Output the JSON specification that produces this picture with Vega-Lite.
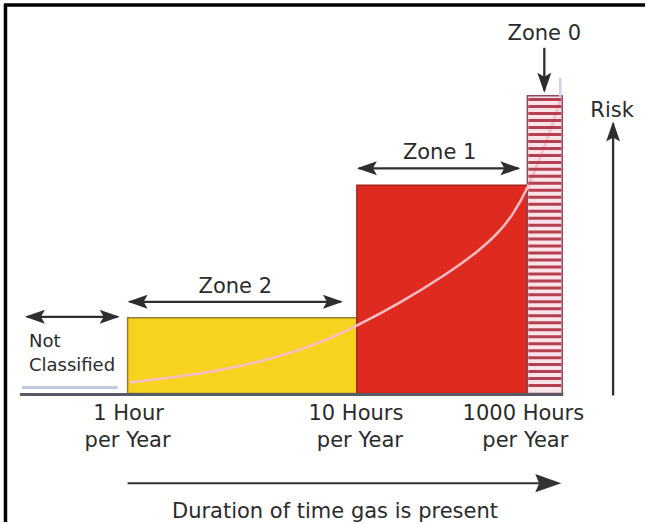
{
  "$schema": "https://vega.github.io/schema/vega-lite/v6.json",
  "width": 647,
  "height": 524,
  "autosize": {"type": "fit", "contains": "padding"},
  "padding": 0,
  "background": "white",
  "config": {"view": {"stroke": null}},
  "datasets": {
    "bars": [
      {"zone": "Zone 2", "x": 128, "x2": 358, "y": 0, "y2": 76},
      {"zone": "Zone 1", "x": 358, "x2": 529, "y": 0, "y2": 209},
      {"zone": "Zone 0", "x": 529, "x2": 564, "y": 0, "y2": 299}
    ],
    "curve": [
      {"x": 130, "y": 11}, {"x": 180, "y": 17}, {"x": 220, "y": 23}, {"x": 270, "y": 34},
      {"x": 320, "y": 50}, {"x": 358, "y": 68}, {"x": 400, "y": 90}, {"x": 450, "y": 121},
      {"x": 480, "y": 143}, {"x": 500, "y": 161}, {"x": 515, "y": 180}, {"x": 530, "y": 207},
      {"x": 545, "y": 245}, {"x": 556, "y": 275}, {"x": 562, "y": 295}
    ],
    "stripes": [
      {"x": 530, "x2": 563, "y": 295}, {"x": 530, "x2": 563, "y": 288}, {"x": 530, "x2": 563, "y": 281},
      {"x": 530, "x2": 563, "y": 274}, {"x": 530, "x2": 563, "y": 267}, {"x": 530, "x2": 563, "y": 260},
      {"x": 530, "x2": 563, "y": 253}, {"x": 530, "x2": 563, "y": 246}, {"x": 530, "x2": 563, "y": 239},
      {"x": 530, "x2": 563, "y": 232}, {"x": 530, "x2": 563, "y": 225}, {"x": 530, "x2": 563, "y": 218},
      {"x": 530, "x2": 563, "y": 211}, {"x": 530, "x2": 563, "y": 204}, {"x": 530, "x2": 563, "y": 197},
      {"x": 530, "x2": 563, "y": 190}, {"x": 530, "x2": 563, "y": 183}, {"x": 530, "x2": 563, "y": 176},
      {"x": 530, "x2": 563, "y": 169}, {"x": 530, "x2": 563, "y": 162}, {"x": 530, "x2": 563, "y": 155},
      {"x": 530, "x2": 563, "y": 148}, {"x": 530, "x2": 563, "y": 141}, {"x": 530, "x2": 563, "y": 134},
      {"x": 530, "x2": 563, "y": 127}, {"x": 530, "x2": 563, "y": 120}, {"x": 530, "x2": 563, "y": 113},
      {"x": 530, "x2": 563, "y": 106}, {"x": 530, "x2": 563, "y": 99}, {"x": 530, "x2": 563, "y": 92},
      {"x": 530, "x2": 563, "y": 85}, {"x": 530, "x2": 563, "y": 78}, {"x": 530, "x2": 563, "y": 71},
      {"x": 530, "x2": 563, "y": 64}, {"x": 530, "x2": 563, "y": 57}, {"x": 530, "x2": 563, "y": 50},
      {"x": 530, "x2": 563, "y": 43}, {"x": 530, "x2": 563, "y": 36}, {"x": 530, "x2": 563, "y": 29},
      {"x": 530, "x2": 563, "y": 22}, {"x": 530, "x2": 563, "y": 15}, {"x": 530, "x2": 563, "y": 8}
    ],
    "segments": [
      {"kind": "frame", "x": 4, "x2": 647, "y": 390, "y2": 390},
      {"kind": "frame", "x": 5.5, "x2": 5.5, "y": 391, "y2": -129},
      {"kind": "base", "x": 20, "x2": 565, "y": -1, "y2": -1},
      {"kind": "flat", "x": 22, "x2": 118, "y": 6, "y2": 6},
      {"kind": "lav", "x": 562, "x2": 562, "y": 317, "y2": 298},
      {"kind": "arrow", "x": 27, "x2": 118, "y": 77, "y2": 77},
      {"kind": "arrow", "x": 130, "x2": 342, "y": 92, "y2": 92},
      {"kind": "arrow", "x": 360, "x2": 520, "y": 226, "y2": 226},
      {"kind": "arrow", "x": 546, "x2": 546, "y": 347, "y2": 304},
      {"kind": "arrow", "x": 615, "x2": 615, "y": 271, "y2": -2},
      {"kind": "duration", "x": 128, "x2": 555, "y": -90, "y2": -90}
    ],
    "heads": [
      {"arrow": "nc", "dir": "left", "x": 25, "y": 77},
      {"arrow": "nc", "dir": "right", "x": 120, "y": 77},
      {"arrow": "z2", "dir": "left", "x": 128, "y": 92},
      {"arrow": "z2", "dir": "right", "x": 344, "y": 92},
      {"arrow": "z1", "dir": "left", "x": 358, "y": 226},
      {"arrow": "z1", "dir": "right", "x": 522, "y": 226},
      {"arrow": "z0", "dir": "down", "x": 546, "y": 302},
      {"arrow": "risk", "dir": "up", "x": 615, "y": 273},
      {"arrow": "duration", "dir": "right", "x": 563, "y": -90}
    ],
    "labels": [
      {"role": "zone", "text": "Zone 0", "x": 546, "y": 355},
      {"role": "zone", "text": "Zone 1", "x": 441, "y": 235},
      {"role": "zone", "text": "Zone 2", "x": 236, "y": 101},
      {"role": "tick", "text": "1 Hour", "x": 129, "y": -27},
      {"role": "tick", "text": "per Year", "x": 128, "y": -54},
      {"role": "tick", "text": "10 Hours", "x": 357, "y": -27},
      {"role": "tick", "text": "per Year", "x": 361, "y": -54},
      {"role": "tick", "text": "1000 Hours", "x": 525, "y": -27},
      {"role": "tick", "text": "per Year", "x": 527, "y": -54},
      {"role": "axis", "text": "Duration of time gas is present", "x": 336, "y": -125},
      {"role": "risk", "text": "Risk", "x": 614, "y": 278}
    ],
    "notes": [
      {"text": "Not", "x": 29, "y": 47},
      {"text": "Classified", "x": 29, "y": 23}
    ]
  },
  "encoding": {
    "x": {"field": "x", "type": "quantitative", "scale": {"domain": [0, 647], "nice": false, "zero": false}, "axis": null},
    "y": {"field": "y", "type": "quantitative", "scale": {"domain": [-129, 395], "nice": false, "zero": false}, "axis": null}
  },
  "layer": [
    {
      "data": {"name": "bars"},
      "mark": {"type": "rect", "strokeWidth": 1.5},
      "encoding": {
        "x2": {"field": "x2"},
        "y2": {"field": "y2"},
        "fill": {"field": "zone", "type": "nominal", "legend": null,
          "scale": {"domain": ["Zone 2", "Zone 1", "Zone 0"], "range": ["#F5D31F", "#DF2B1F", "#FBE3EA"]}},
        "stroke": {"field": "zone", "type": "nominal", "legend": null,
          "scale": {"domain": ["Zone 2", "Zone 1", "Zone 0"], "range": ["#9A7B2E", "#A3241A", "#8E4A5A"]}}
      }
    },
    {
      "data": {"name": "curve"},
      "mark": {"type": "line", "color": "#F7BCC6", "strokeWidth": 2.5, "interpolate": "basis"},
      "encoding": {}
    },
    {
      "data": {"name": "stripes"},
      "mark": {"type": "rule", "color": "#B5404F", "strokeWidth": 3},
      "encoding": {"x2": {"field": "x2"}}
    },
    {
      "data": {"name": "segments"},
      "mark": {"type": "rule"},
      "encoding": {
        "x2": {"field": "x2"},
        "y2": {"field": "y2"},
        "color": {"field": "kind", "type": "nominal", "legend": null,
          "scale": {"domain": ["frame", "base", "flat", "lav", "arrow", "duration"],
                    "range": ["#000000", "#5A5A66", "#C3C8E0", "#D6CCEE", "#2E2E2E", "#333333"]}},
        "strokeWidth": {"field": "kind", "type": "nominal", "legend": null,
          "scale": {"domain": ["frame", "base", "flat", "lav", "arrow", "duration"],
                    "range": [3.5, 2, 2.5, 2, 3.5, 6]}}
      }
    },
    {
      "data": {"name": "heads"},
      "transform": [{"filter": "datum.arrow !== 'duration'"}],
      "mark": {"type": "point", "filled": true, "color": "#2E2E2E", "opacity": 1, "size": 400, "strokeWidth": 0},
      "encoding": {
        "shape": {"field": "dir", "type": "nominal", "legend": null,
          "scale": {"domain": ["left", "right", "up", "down"],
                    "range": ["M0,0L2,-0.7L1.6,0L2,0.7Z", "M0,0L-2,-0.7L-1.6,0L-2,0.7Z", "M0,0L-0.7,2L0,1.6L0.7,2Z", "M0,0L-0.7,-2L0,-1.6L0.7,-2Z"]}}
      }
    },
    {
      "data": {"name": "heads"},
      "transform": [{"filter": "datum.arrow === 'duration'"}],
      "mark": {"type": "point", "filled": true, "color": "#333333", "opacity": 1, "size": 676, "strokeWidth": 0,
               "shape": "M0,0L-2,-0.7L-1.7,0L-2,0.7Z"},
      "encoding": {}
    },
    {
      "data": {"name": "labels"},
      "mark": {"type": "text", "font": "DejaVu Sans", "align": "center", "baseline": "alphabetic", "color": "#2B2B2B"},
      "encoding": {
        "text": {"field": "text"},
        "size": {"field": "role", "type": "nominal", "legend": null,
          "scale": {"domain": ["zone", "tick", "axis", "risk"], "range": [21, 21, 21, 23]}}
      }
    },
    {
      "data": {"name": "notes"},
      "mark": {"type": "text", "font": "DejaVu Sans", "align": "left", "baseline": "alphabetic", "color": "#2B2B2B", "fontSize": 18},
      "encoding": {"text": {"field": "text"}}
    }
  ]
}
